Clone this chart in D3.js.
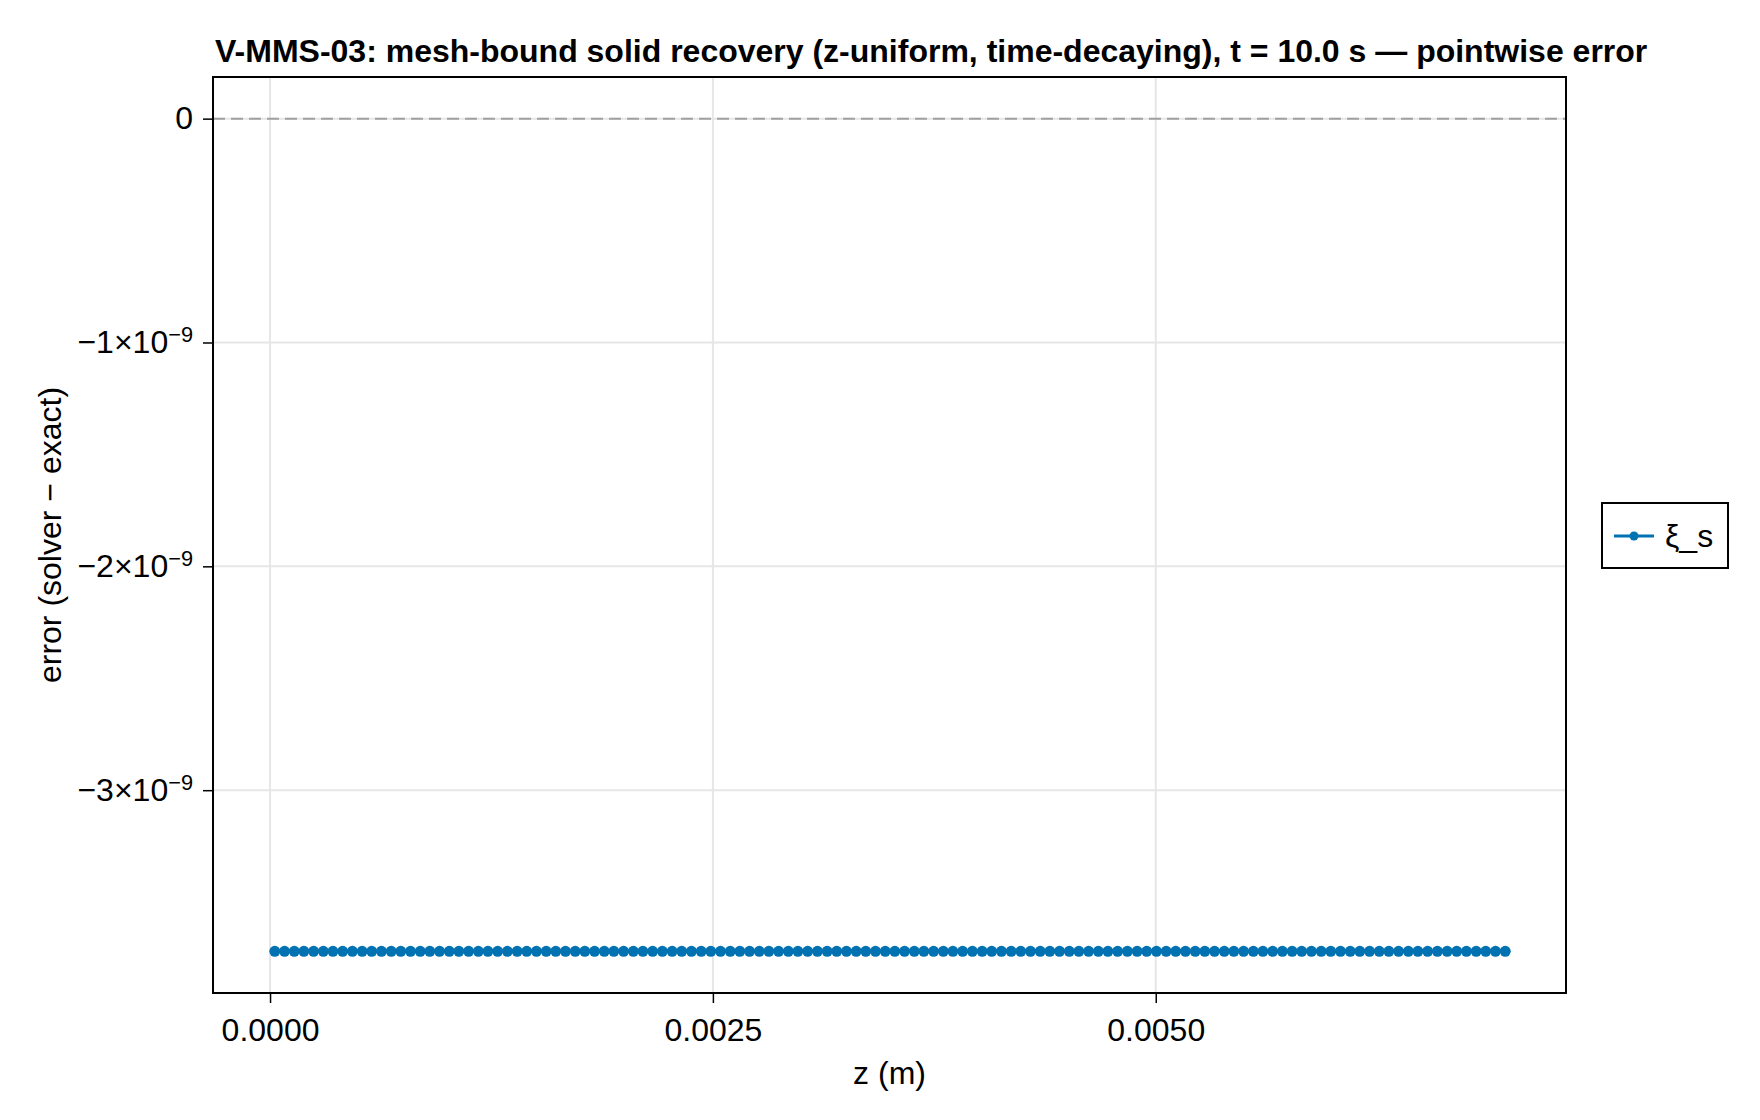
<!DOCTYPE html>
<html>
<head>
<meta charset="utf-8">
<script src="https://cdn.jsdelivr.net/npm/d3@7"></script>
<style>
  body { margin: 0; background: #fff; }
  text { font-family: "Liberation Sans", Arial, sans-serif; }
</style>
</head>
<body>
<div id="chart"></div>
<script>
// z positions of the cell centres, micrometres
var zMicro = [
  27, 82, 137, 191, 246, 301, 355, 410, 465, 520, 574, 629, 684, 738, 793, 848,
  902, 957, 1012, 1066, 1121, 1176, 1230, 1285, 1340, 1395, 1449, 1504, 1559, 1613, 1668, 1723,
  1777, 1832, 1887, 1941, 1996, 2051, 2105, 2160, 2215, 2270, 2324, 2379, 2434, 2488, 2543, 2598,
  2652, 2707, 2762, 2816, 2871, 2926, 2980, 3035, 3090, 3145, 3199, 3254, 3309, 3363, 3418, 3473,
  3527, 3582, 3637, 3691, 3746, 3801, 3855, 3910, 3965, 4020, 4074, 4129, 4184, 4238, 4293, 4348,
  4402, 4457, 4512, 4566, 4621, 4676, 4730, 4785, 4840, 4895, 4949, 5004, 5059, 5113, 5168, 5223,
  5277, 5332, 5387, 5441, 5496, 5551, 5605, 5660, 5715, 5770, 5824, 5879, 5934, 5988, 6043, 6098,
  6152, 6207, 6262, 6316, 6371, 6426, 6480, 6535, 6590, 6645, 6699, 6754, 6809, 6863, 6918, 6973
];

// pointwise error (solver - exact), in units of 1e-9
var errNano = [
  -3.72, -3.72, -3.72, -3.72, -3.72, -3.72, -3.72, -3.72, -3.72, -3.72, -3.72, -3.72, -3.72, -3.72, -3.72, -3.72,
  -3.72, -3.72, -3.72, -3.72, -3.72, -3.72, -3.72, -3.72, -3.72, -3.72, -3.72, -3.72, -3.72, -3.72, -3.72, -3.72,
  -3.72, -3.72, -3.72, -3.72, -3.72, -3.72, -3.72, -3.72, -3.72, -3.72, -3.72, -3.72, -3.72, -3.72, -3.72, -3.72,
  -3.72, -3.72, -3.72, -3.72, -3.72, -3.72, -3.72, -3.72, -3.72, -3.72, -3.72, -3.72, -3.72, -3.72, -3.72, -3.72,
  -3.72, -3.72, -3.72, -3.72, -3.72, -3.72, -3.72, -3.72, -3.72, -3.72, -3.72, -3.72, -3.72, -3.72, -3.72, -3.72,
  -3.72, -3.72, -3.72, -3.72, -3.72, -3.72, -3.72, -3.72, -3.72, -3.72, -3.72, -3.72, -3.72, -3.72, -3.72, -3.72,
  -3.72, -3.72, -3.72, -3.72, -3.72, -3.72, -3.72, -3.72, -3.72, -3.72, -3.72, -3.72, -3.72, -3.72, -3.72, -3.72,
  -3.72, -3.72, -3.72, -3.72, -3.72, -3.72, -3.72, -3.72, -3.72, -3.72, -3.72, -3.72, -3.72, -3.72, -3.72, -3.72
];

var xTicks = [0, 0.0025, 0.005];
var yTicks = [0, -1, -2, -3];   // x 1e-9
var seriesName = "ξ_s";

var svgWidth = 1760;
var svgHeight = 1120;

var margin = { top: 77, right: 194, bottom: 127, left: 213 };
var width = svgWidth - margin.left - margin.right;
var height = svgHeight - margin.top - margin.bottom;

var blue = "#0072b2";
var fontSize = 32;

var data = zMicro.map((z, i) => ({ z: z * 1e-6, e: errNano[i] }));

var svg = d3.select("#chart")
  .append("svg")
  .attr("width", svgWidth)
  .attr("height", svgHeight);

var chartGroup = svg.append("g")
  .attr("transform", `translate(${margin.left}, ${margin.top})`);

// scales (limits padded like the original plotting library)
var xScale = d3.scaleLinear()
  .domain([-0.000322, 0.007316])
  .range([0, width]);

var yScale = d3.scaleLinear()
  .domain([-3.906, 0.186])
  .range([height, 0]);

// grid
chartGroup.append("g")
  .selectAll("line")
  .data(xTicks)
  .enter()
  .append("line")
  .attr("x1", d => xScale(d)).attr("x2", d => xScale(d))
  .attr("y1", 0).attr("y2", height)
  .attr("stroke", "#e6e6e6")
  .attr("stroke-width", 2);

chartGroup.append("g")
  .selectAll("line")
  .data(yTicks)
  .enter()
  .append("line")
  .attr("x1", 0).attr("x2", width)
  .attr("y1", d => yScale(d)).attr("y2", d => yScale(d))
  .attr("stroke", "#e6e6e6")
  .attr("stroke-width", 2);

// zero reference line
chartGroup.append("line")
  .attr("x1", 0).attr("x2", width)
  .attr("y1", yScale(0)).attr("y2", yScale(0))
  .attr("stroke", "#a0a0a0")
  .attr("stroke-width", 2)
  .attr("stroke-dasharray", "12,6");

// axes
var bottomAxis = d3.axisBottom(xScale)
  .tickValues(xTicks)
  .tickFormat(d3.format(".4f"))
  .tickSizeInner(10)
  .tickSizeOuter(0)
  .tickPadding(15);

var leftAxis = d3.axisLeft(yScale)
  .tickValues(yTicks)
  .tickFormat(() => "")
  .tickSizeInner(10)
  .tickSizeOuter(0)
  .tickPadding(10);

var xAxisG = chartGroup.append("g")
  .attr("transform", `translate(0, ${height})`)
  .call(bottomAxis);

var yAxisG = chartGroup.append("g")
  .call(leftAxis);

[xAxisG, yAxisG].forEach(g => {
  g.select(".domain").remove();
  g.selectAll(".tick line").attr("stroke", "#000").attr("stroke-width", 1.5);
  g.selectAll(".tick text")
    .attr("fill", "#000")
    .style("font-family", "'Liberation Sans', Arial, sans-serif")
    .style("font-size", fontSize + "px");
});

// y tick labels with powers of ten
yAxisG.selectAll(".tick text").each(function(d) {
  var t = d3.select(this);
  if (d === 0) {
    t.text("0");
    return;
  }
  t.append("tspan").text("\u2212" + Math.abs(d) + "\u00d710");
  t.append("tspan")
    .attr("dy", "-0.5em")
    .style("font-size", (fontSize * 0.68) + "px")
    .text("\u22129");
});

// spines
chartGroup.append("rect")
  .attr("x", 0).attr("y", 0)
  .attr("width", width).attr("height", height)
  .attr("fill", "none")
  .attr("stroke", "#000")
  .attr("stroke-width", 2);

// series: line + markers
var line = d3.line()
  .x(d => xScale(d.z))
  .y(d => yScale(d.e));

chartGroup.append("path")
  .datum(data)
  .attr("d", line)
  .attr("fill", "none")
  .attr("stroke", blue)
  .attr("stroke-width", 3);

chartGroup.selectAll("circle.pt")
  .data(data)
  .enter()
  .append("circle")
  .attr("class", "pt")
  .attr("cx", d => xScale(d.z))
  .attr("cy", d => yScale(d.e))
  .attr("r", 5.5)
  .attr("fill", blue);

// title
svg.append("text")
  .attr("x", margin.left + 2)
  .attr("y", 62)
  .style("font-size", fontSize + "px")
  .style("font-weight", "bold")
  .text("V-MMS-03: mesh-bound solid recovery (z-uniform, time-decaying), t = 10.0 s \u2014 pointwise error");

// axis labels
svg.append("text")
  .attr("transform", `translate(${margin.left + width / 2}, 1084)`)
  .attr("text-anchor", "middle")
  .style("font-size", fontSize + "px")
  .text("z (m)");

svg.append("text")
  .attr("transform", `translate(61, ${margin.top + height / 2}) rotate(-90)`)
  .attr("text-anchor", "middle")
  .style("font-size", fontSize + "px")
  .text("error (solver \u2212 exact)");

// legend
var legend = svg.append("g")
  .attr("transform", "translate(1602, 503)");

legend.append("rect")
  .attr("width", 126)
  .attr("height", 65)
  .attr("fill", "#fff")
  .attr("stroke", "#000")
  .attr("stroke-width", 2);

legend.append("line")
  .attr("x1", 12).attr("x2", 52)
  .attr("y1", 33).attr("y2", 33)
  .attr("stroke", blue)
  .attr("stroke-width", 3);

legend.append("circle")
  .attr("cx", 32).attr("cy", 33)
  .attr("r", 4.5)
  .attr("fill", blue);

legend.append("text")
  .attr("x", 63)
  .attr("y", 44)
  .style("font-size", fontSize + "px")
  .text(seriesName);
</script>
</body>
</html>
